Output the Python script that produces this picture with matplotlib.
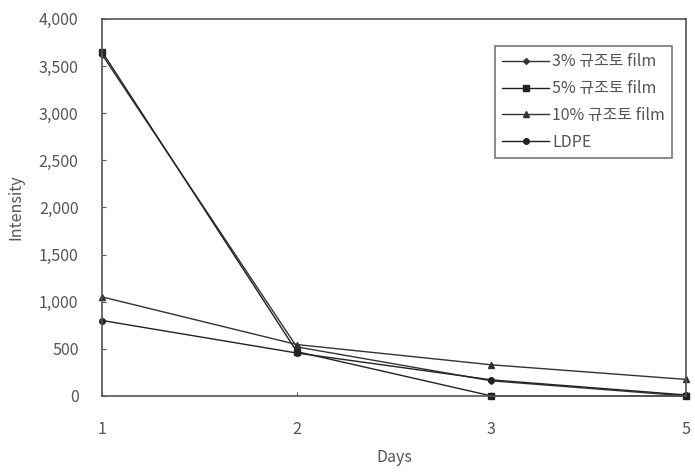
import matplotlib.pyplot as plt
from matplotlib.ticker import FuncFormatter

plt.rcParams['font.family'] = ['Noto Sans CJK KR', 'DejaVu Sans']

# data
days = ['1', '2', '3', '5']
s_3 = [3620, 520, 160, 0]
s_5 = [3650, 470, 0, 0]
s_10 = [1050, 545, 330, 175]
s_ldpe = [800, 455, 170, 10]
names = ['3% 규조토 film', '5% 규조토 film', '10% 규조토 film', 'LDPE']

fig = plt.figure(figsize=(6.95, 4.73), dpi=100)
ax = fig.add_axes([0.147, 0.163, 0.840, 0.797])

x = range(len(days))
ax.plot(x, s_3, '-D', color='#333333', lw=1, ms=3, label=names[0], clip_on=False)
ax.plot(x, s_5, '-s', color='#222222', lw=1, ms=4, label=names[1], clip_on=False)
ax.plot(x, s_10, '-^', color='#333333', lw=1, ms=4, label=names[2], clip_on=False)
ax.plot(x, s_ldpe, '-o', color='#222222', lw=1, ms=4, label=names[3], clip_on=False)

ax.set_xlim(0, len(days) - 1)
ax.set_ylim(0, 4000)
ax.set_xticks(list(x))
ax.set_xticklabels(days)
ax.set_yticks(range(0, 4001, 500))
ax.yaxis.set_major_formatter(FuncFormatter(lambda v, p: f'{int(v):,}'))

for s in ax.spines.values():
    s.set_color('#555555')
    s.set_linewidth(1.2)
ax.tick_params(direction='in', length=3, colors='#555555', labelcolor='#555555',
               labelsize=11.5)
ax.tick_params(axis='x', pad=18)
ax.tick_params(axis='y', pad=17)

ax.set_xlabel('Days', color='#555555', fontsize=11.5, labelpad=8)
ax.set_ylabel('Intensity', color='#555555', fontsize=11.5, labelpad=10)

leg = ax.legend(loc='upper right', bbox_to_anchor=(0.976, 0.928), fontsize=11.5,
                frameon=True, fancybox=False, handlelength=2.9, handletextpad=0.2,
                labelspacing=0.62, borderpad=0.45, borderaxespad=0)
leg.get_frame().set_edgecolor('#555555')
leg.get_frame().set_linewidth(1.2)
for t in leg.get_texts():
    t.set_color('#555555')

fig.savefig('out.png', dpi=100)
